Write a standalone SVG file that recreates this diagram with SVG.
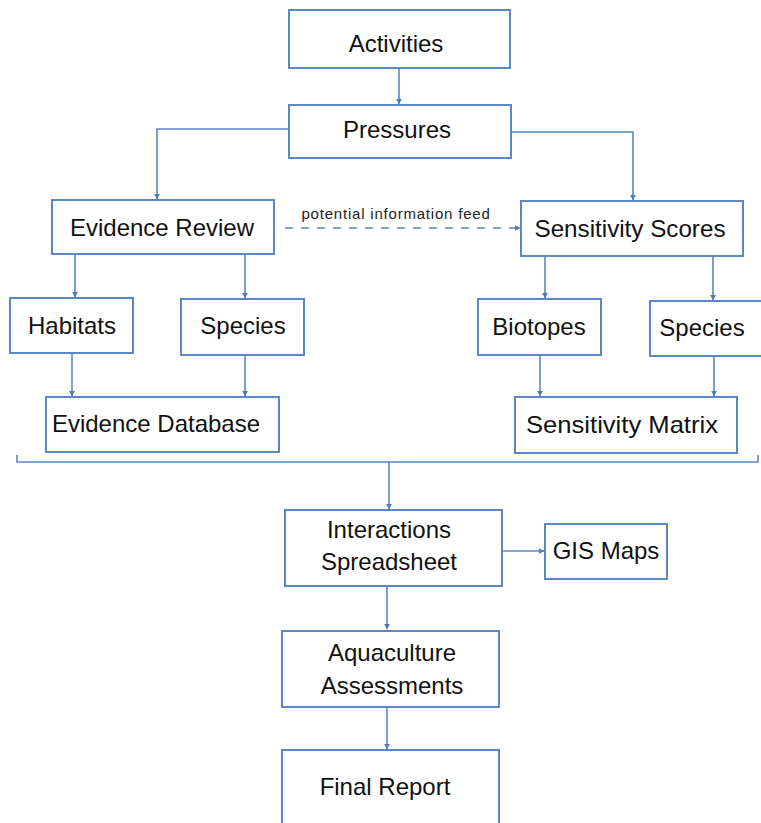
<svg xmlns="http://www.w3.org/2000/svg" width="761" height="823" viewBox="0 0 761 823">
<style>
.box{fill:#fff;stroke:#5b87c2;stroke-width:2}
.t{font-family:"Liberation Sans",Arial,sans-serif;font-size:24px;fill:#111;text-anchor:middle}
.s{font-family:"Liberation Sans",Arial,sans-serif;font-size:15px;fill:#222;text-anchor:middle;letter-spacing:0.8px}
.c{fill:none;stroke:#5b87c2;stroke-width:1.6}
</style>
<defs>
<marker id="ah" viewBox="0 0 10 10" refX="9" refY="5" markerWidth="6" markerHeight="6" orient="auto" markerUnits="userSpaceOnUse">
<path d="M0,0 L10,5 L0,10 z" fill="#4a7bbd"/>
</marker>
</defs>
<rect width="761" height="823" fill="#fff"/>
<g id="connectors">
<path class="c" d="M399,68 V104" marker-end="url(#ah)"/>
<path class="c" d="M289,129 H157 V199" marker-end="url(#ah)"/>
<path class="c" d="M511,132 H633 V200" marker-end="url(#ah)"/>
<path class="c" d="M285,228 H520" stroke-dasharray="8,8" marker-end="url(#ah)"/>
<path class="c" d="M75,254 V297" marker-end="url(#ah)"/>
<path class="c" d="M245,254 V298" marker-end="url(#ah)"/>
<path class="c" d="M545,256 V298" marker-end="url(#ah)"/>
<path class="c" d="M713,256 V300" marker-end="url(#ah)"/>
<path class="c" d="M72,353 V396" marker-end="url(#ah)"/>
<path class="c" d="M245,355 V396" marker-end="url(#ah)"/>
<path class="c" d="M540,355 V396" marker-end="url(#ah)"/>
<path class="c" d="M714,356 V396" marker-end="url(#ah)"/>
<path class="c" d="M17,455 V462 H758 V455"/>
<path class="c" d="M389,462 V509" marker-end="url(#ah)"/>
<path class="c" d="M502,551 H544" marker-end="url(#ah)"/>
<path class="c" d="M387,586 V629" marker-end="url(#ah)"/>
<path class="c" d="M387,707 V749" marker-end="url(#ah)"/>
<text class="s" x="396" y="219">potential information feed</text>
</g>
<g id="activities"><rect class="box" x="289" y="10" width="221" height="58"/><text class="t" x="396" y="52">Activities</text></g>
<g id="pressures"><rect class="box" x="289" y="105" width="222" height="53"/><text class="t" x="397" y="138">Pressures</text></g>
<g id="evidence-review"><rect class="box" x="52" y="200" width="222" height="54"/><text class="t" x="162" y="236">Evidence Review</text></g>
<g id="sensitivity-scores"><rect class="box" x="521" y="201" width="222" height="55"/><text class="t" x="630" y="237" textLength="191" lengthAdjust="spacingAndGlyphs">Sensitivity Scores</text></g>
<g id="habitats"><rect class="box" x="10" y="298" width="123" height="55"/><text class="t" x="72" y="334">Habitats</text></g>
<g id="species-left"><rect class="box" x="181" y="299" width="123" height="56"/><text class="t" x="243" y="334">Species</text></g>
<g id="biotopes"><rect class="box" x="478" y="299" width="123" height="56"/><text class="t" x="539" y="335">Biotopes</text></g>
<g id="species-right"><rect class="box" x="650" y="301" width="115" height="55"/><text class="t" x="702" y="336">Species</text></g>
<g id="evidence-database"><rect class="box" x="46" y="397" width="233" height="55"/><text class="t" x="156" y="432">Evidence Database</text></g>
<g id="sensitivity-matrix"><rect class="box" x="515" y="397" width="222" height="56"/><text class="t" x="622" y="433" textLength="192" lengthAdjust="spacingAndGlyphs">Sensitivity Matrix</text></g>
<g id="interactions"><rect class="box" x="285" y="510" width="217" height="76"/><text class="t" x="389" y="538">Interactions</text><text class="t" x="389" y="570">Spreadsheet</text></g>
<g id="gis-maps"><rect class="box" x="545" y="524" width="122" height="55"/><text class="t" x="606" y="559">GIS Maps</text></g>
<g id="aquaculture"><rect class="box" x="282" y="631" width="217" height="76"/><text class="t" x="392" y="661">Aquaculture</text><text class="t" x="392" y="694">Assessments</text></g>
<g id="final-report"><rect class="box" x="282" y="750" width="217" height="90"/><text class="t" x="385" y="795">Final Report</text></g>
</svg>
